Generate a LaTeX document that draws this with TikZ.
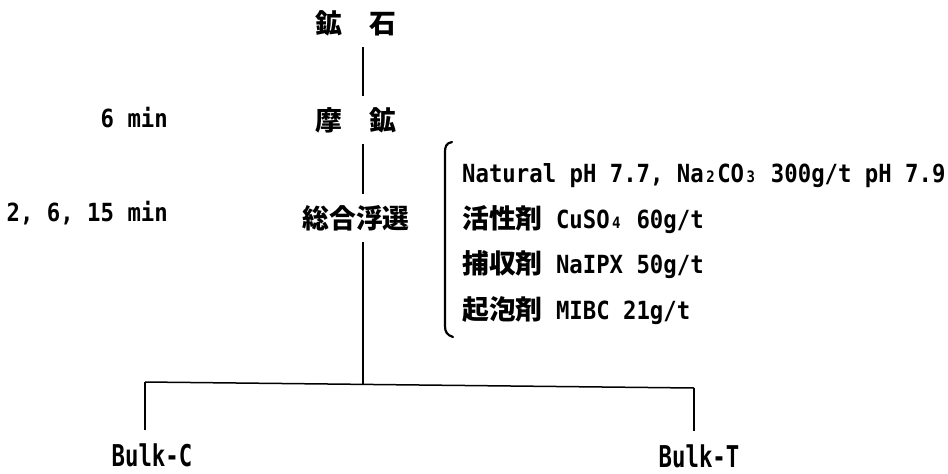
\documentclass[tikz,border=0pt]{standalone}
\usepackage{fontspec}
\newfontfamily\cjkf{Noto Sans CJK JP}
\newfontfamily\latf{DejaVu Sans Mono}
\newcommand\J[1]{{\cjkf\bfseries\fontsize{26.8pt}{30pt}\selectfont #1}}
\newcommand\lt[1]{\scalebox{1}[1.12]{\latf\bfseries\fontsize{22.3pt}{26pt}\selectfont\frenchspacing #1}}
\newcommand\sbs[1]{\makebox[13.42pt][c]{\fontsize{14pt}{14pt}\selectfont #1}}
\newcommand\hsp{\hspace{13.42pt}}
\tikzset{
  cj/.style={inner sep=0pt, outer ysep=12pt, text height=22pt, text depth=2pt, anchor=base},
  lab/.style={inner sep=0pt, anchor=base east},
  cond/.style={inner sep=0pt, anchor=base west},
  bulk/.style={inner sep=0pt, outer ysep=13pt, anchor=base},
  vline/.style={line width=2.4pt},
  hline/.style={line width=1.5pt},
  bracket/.style={line width=2.2pt, line cap=round}
}
\begin{document}
\begin{tikzpicture}[x=1pt, y=-1pt]
  \fill[white] (0,0) rectangle (948,474);
  \useasboundingbox (0,0) rectangle (948,474);

  \coordinate (spine) at (363,0);

  \node[cj] (ore)   at (356,33)  {\J{鉱\hspace{26.8pt}石}};
  \node[cj] (grind) at (356,130) {\J{摩\hspace{26.8pt}鉱}};
  \node[cj] (flot)  at (356,228) {\J{総合浮選}};

  \node[lab] (t6) at (168,127) {\lt{6 min}};
  \node[lab] (t2) at (168,221) {\lt{2, 6, 15 min}};

  \node[cond] (c1) at (462,182) {\lt{Natural pH 7.7, Na\sbs{2}CO\sbs{3} 300g/t pH 7.9}};
  \node[cond] (c2) at (462,228) {\J{活性剤}\hsp\lt{CuSO\sbs{4} 60g/t}};
  \node[cond] (c3) at (462,273) {\J{捕収剤}\hsp\lt{NaIPX 50g/t}};
  \node[cond] (c4) at (462,319) {\J{起泡剤}\hsp\lt{MIBC 21g/t}};

  \node[bulk] (bulkc) at (152,466) {\scalebox{1}[1.2]{\lt{Bulk-C}}};
  \node[bulk] (bulkt) at (699,467) {\scalebox{1}[1.2]{\lt{Bulk-T}}};

  \coordinate (jl) at (145,382);
  \coordinate (jr) at (694,388);
  \coordinate (j)  at (363,384.4);

  \draw[vline] (ore.south -| spine) -- (grind.north -| spine);
  \draw[vline] (grind.south -| spine) -- (flot.north -| spine);
  \draw[vline] (flot.south -| spine) -- (j);
  \draw[hline] (jl) -- (jr);
  \draw[vline] (jl) -- (bulkc.north -| jl);
  \draw[vline] (jr) -- (bulkt.north -| jr);

  \draw[bracket] (452,142) .. controls (446,143) and (445,147) .. (445,152)
    -- (445,326) .. controls (445,332) and (447,335) .. (453,337);
\end{tikzpicture}
\end{document}
